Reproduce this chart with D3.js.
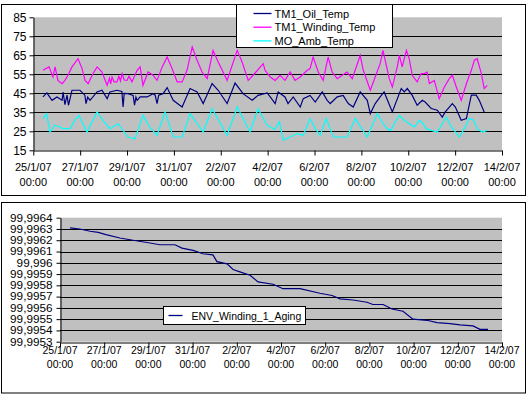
<!DOCTYPE html>
<html>
<head>
<meta charset="utf-8">
<script src="https://cdn.jsdelivr.net/npm/d3@7"></script>
<style>
    body { margin: 0; background: #fff; }
    svg text { font-family: Arial, "Liberation Sans", sans-serif; fill: #000; }
</style>
</head>
<body>
<svg id="chart" width="529" height="395"></svg>
<script>
// time axis: days counted from 25/1/07 00:00
const startDate = new Date(2007, 0, 25);
const tickDays = [0, 2, 4, 6, 8, 10, 12, 14, 16, 18, 20];

const tempTicks = [15, 25, 35, 45, 55, 65, 75, 85];
const agingTicks = [99.9953, 99.9954, 99.9955, 99.9956, 99.9957, 99.9958, 99.9959, 99.9960, 99.9961, 99.9962, 99.9963, 99.9964];

const seriesNames = ["TM1_Oil_Temp", "TM1_Winding_Temp", "MO_Amb_Temp"];
const seriesColors = ["#000080", "#ff00ff", "#00ffff"];

// [day, value]
const oilTemp = [[0.41,43.1],[0.58,45.2],[0.80,41.3],[1.01,43.1],[1.23,41.3],[1.27,45.7],[1.35,39],[1.44,44],[1.50,38.7],[1.65,46.6],[1.99,46.6],[2.20,44],[2.25,39.6],[2.32,43],[2.42,41.3],[2.72,45.7],[2.93,46.6],[3.15,42.2],[3.27,45.7],[3.57,46.6],[3.78,46],[3.83,37.8],[3.88,45],[4.04,44.8],[4.26,43.9],[4.32,38.7],[4.38,43],[4.43,41.3],[4.56,43.1],[4.86,43.1],[5.11,44.8],[5.20,44],[5.28,39.6],[5.35,44],[5.54,44.8],[5.71,48],[5.97,41.3],[6.35,37.8],[6.69,47.5],[6.99,45.7],[7.25,39.6],[7.63,50.1],[7.89,46.6],[8.27,39.6],[8.61,50.4],[8.95,44.8],[9.34,41.3],[9.59,43.9],[9.98,45.2],[10.11,43.1],[10.32,39.6],[10.45,45.7],[10.74,43.1],[10.87,39.6],[11.09,43.1],[11.39,37.8],[11.52,42.2],[11.81,43.9],[12.03,40.4],[12.33,45.7],[12.54,41.3],[12.67,39.6],[12.97,43.1],[13.22,43.9],[13.44,39.6],[13.65,37.8],[13.95,45.7],[14.25,41.3],[14.38,34.3],[14.59,39.6],[14.80,43.1],[14.97,45.7],[15.32,35.2],[15.70,47.5],[15.83,45.7],[15.96,47.5],[16.17,43.9],[16.38,38.7],[16.60,41.3],[16.72,40.4],[16.98,37],[17.24,36.1],[17.45,32.5],[17.58,35.2],[17.88,39.6],[18.01,37.8],[18.26,30.8],[18.48,31.7],[18.69,44],[18.90,44],[19.03,41.3],[19.24,35.2]];

const windingTemp = [[0.41,57.1],[0.67,58.9],[0.84,53.6],[0.93,58.9],[1.05,51.8],[1.23,50.1],[1.35,51.8],[1.48,54.5],[1.65,58.9],[1.91,63.2],[2.08,58],[2.21,51.8],[2.34,50.1],[2.55,55.4],[2.72,58.9],[2.93,56.2],[3.15,49.2],[3.25,53],[3.30,50],[3.36,53.6],[3.45,51],[3.57,51],[3.65,54],[3.72,51.5],[3.79,55.4],[3.88,52],[4.00,51.8],[4.08,54],[4.21,51],[4.43,57.1],[4.56,58.9],[4.68,49.2],[4.90,56.2],[5.11,54.5],[5.28,51.8],[5.50,58.9],[5.71,64.1],[5.92,58],[6.14,51],[6.35,51],[6.56,57.1],[6.78,69.4],[6.99,62.4],[7.20,56.2],[7.42,52.7],[7.67,67.6],[7.89,61.5],[8.27,51.8],[8.70,67.6],[8.91,61.5],[9.17,51.8],[9.38,54.5],[9.81,60.6],[9.89,57.1],[10.11,53.6],[10.32,51.8],[10.53,54.5],[10.74,51.8],[10.96,56.2],[11.17,51.8],[11.39,53.6],[11.69,57.1],[11.81,58],[11.94,64.1],[12.16,56.2],[12.37,51.8],[12.58,64.1],[12.75,56.2],[12.97,52.7],[13.18,54.5],[13.39,56.2],[13.61,52.7],[13.95,65],[14.08,57.1],[14.38,46.6],[14.59,53.6],[14.80,60.6],[14.92,67.6],[15.19,52.7],[15.32,48.3],[15.53,58.9],[15.62,65],[15.74,58.9],[15.92,67.6],[16.04,63.2],[16.17,54.5],[16.38,51],[16.55,55.4],[16.68,55.4],[16.81,56.2],[16.90,50.1],[17.11,51.8],[17.32,42.2],[17.54,48.3],[17.75,52.7],[17.88,54.5],[18.05,48.3],[18.26,41.3],[18.48,50],[18.69,57.1],[18.82,62.4],[18.94,63.2],[19.12,55.4],[19.24,47.5],[19.37,49.2]];

const ambTemp = [[0.41,31.7],[0.57,34.3],[0.71,24.6],[0.93,28.2],[1.14,27.3],[1.27,26.4],[1.57,26.4],[1.78,31],[1.95,33.4],[2.29,24.6],[2.72,35.2],[3.02,30],[3.27,26.4],[3.62,29],[4.04,22],[4.34,21.1],[4.68,33.4],[4.98,27],[5.28,22.9],[5.62,35.2],[5.97,22],[6.35,22],[6.69,34.3],[7.25,24.6],[7.63,36.9],[8.27,22.9],[8.70,37.8],[9.25,24.6],[9.59,36.9],[9.98,28.2],[10.30,26],[10.50,30],[10.66,20.3],[10.96,22],[11.26,23.8],[11.52,22.9],[11.81,31.7],[12.03,26.4],[12.24,22.9],[12.50,31.7],[12.80,22],[13.39,22],[13.74,31.7],[14.25,22],[14.68,34.3],[14.93,29],[15.10,26.4],[15.27,25.5],[15.40,29],[15.62,33.4],[15.83,30.8],[16.04,29],[16.26,27.3],[16.47,30.8],[16.60,29.5],[16.77,26.4],[16.98,25.5],[17.24,24.6],[17.45,29],[17.62,32.5],[17.84,27.3],[18.18,22],[18.39,26.4],[18.60,31.7],[18.78,31],[18.94,26.4],[19.16,24.6],[19.37,25.5]];

const windingAging = [[0.45,99.99631],[0.90,99.99630],[1.36,99.99628],[1.73,99.99627],[2.08,99.99625],[2.71,99.99622],[3.30,99.99620],[3.94,99.99618],[4.52,99.99616],[5.20,99.99616],[5.52,99.99613],[6.02,99.99611],[6.47,99.99608],[6.92,99.99607],[7.10,99.99601],[7.56,99.99599],[7.83,99.99594],[8.14,99.99592],[8.60,99.99589],[8.96,99.99583],[9.64,99.99581],[10.09,99.99577],[10.86,99.99577],[11.76,99.99573],[12.31,99.99571],[12.67,99.99568],[13.26,99.99567],[13.89,99.99565],[14.16,99.99563],[14.62,99.99563],[15.02,99.99559],[15.52,99.99557],[15.97,99.99550],[16.61,99.99549],[17.06,99.99547],[17.65,99.99546],[18.10,99.99545],[18.69,99.99544],[19.00,99.99541],[19.37,99.99541]];

const svg = d3.select("#chart");
const dayToDate = d => new Date(startDate.getTime() + d * 864e5);
const fmtDate = d3.timeFormat("%-d/%-m/%y");
const fmtTime = d3.timeFormat("%H:%M");

/**
 * Draws one framed panel: gray plot area, gridlines, axes, series.
 */
function drawPanel(cfg) {
    const x = d3.scaleTime().domain([startDate, dayToDate(20)]).range([cfg.left, cfg.right]);
    const y = d3.scaleLinear().domain(cfg.yDomain).range([cfg.bottom, cfg.top]);

    svg.append("rect").attr("x", 1.5).attr("y", cfg.boxTop).attr("width", 524).attr("height", cfg.boxBottom - cfg.boxTop)
        .attr("fill", "#fff").attr("stroke", "#000").attr("stroke-width", 1);

    const g = svg.append("g");
    g.append("rect").attr("x", cfg.left).attr("y", cfg.top).attr("width", cfg.right - cfg.left)
        .attr("height", cfg.bottom - cfg.top).attr("fill", "#c0c0c0");

    // gridlines (none on top edge)
    g.selectAll(".grid").data(cfg.yTicks.slice(1, -1)).enter().append("line")
        .attr("x1", cfg.left).attr("x2", cfg.right)
        .attr("y1", d => Math.round(y(d)) + 0.5).attr("y2", d => Math.round(y(d)) + 0.5)
        .attr("stroke", "#000").attr("stroke-width", 1);

    const yAxis = g.append("g").attr("transform", "translate(" + Math.round(cfg.left) + ".5,0)")
        .call(d3.axisLeft(y).tickValues(cfg.yTicks).tickSize(4).tickPadding(3).tickSizeOuter(0).tickFormat(cfg.yFormat));
    yAxis.selectAll("path, line").attr("stroke", "#000");
    yAxis.selectAll("text").style("font-size", cfg.yFont + "px").attr("fill", "#000")
        .attr("transform", "scale(" + cfg.yStretch + ",1)").attr("x", -cfg.yPad / cfg.yStretch);

    const xTicks = tickDays.map(dayToDate);
    const xAxis = g.append("g").attr("transform", "translate(0," + (Math.round(cfg.bottom) + 0.5) + ")")
        .call(d3.axisBottom(x).tickValues(xTicks).tickSize(5).tickSizeOuter(0).tickFormat(""));
    xAxis.selectAll("path, line").attr("stroke", "#000");

    const labels = g.selectAll(".xlab").data(xTicks).enter().append("text")
        .attr("text-anchor", "middle").style("font-size", cfg.xFont + "px");
    labels.append("tspan").attr("x", d => x(d)).attr("y", cfg.xLabelY).text(fmtDate);
    labels.append("tspan").attr("x", d => x(d)).attr("y", cfg.xLabelY + cfg.xLineGap).text(fmtTime);

    const line = d3.line().x(d => x(dayToDate(d[0]))).y(d => y(d[1]));
    cfg.series.forEach(function (s, i) {
        g.append("path").datum(s).attr("d", line).attr("fill", "none")
            .attr("stroke", cfg.colors[i]).attr("stroke-width", 1.2);
    });

    // legend
    const lg = svg.append("g");
    lg.append("rect").attr("x", cfg.legend.x).attr("y", cfg.legend.y).attr("width", cfg.legend.w).attr("height", cfg.legend.h)
        .attr("fill", "#fff").attr("stroke", "#000");
    cfg.names.forEach(function (name, i) {
        const ly = cfg.legend.y + cfg.legend.first + i * cfg.legend.gap;
        lg.append("line").attr("x1", cfg.legend.x + cfg.legend.lx1).attr("x2", cfg.legend.x + cfg.legend.lx2)
            .attr("y1", ly).attr("y2", ly).attr("stroke", cfg.colors[i]).attr("stroke-width", 1.3);
        lg.append("text").attr("x", cfg.legend.x + cfg.legend.tx).attr("y", ly + 4)
            .style("font-size", cfg.legend.font + "px").text(name);
    });
}

drawPanel({
    boxTop: 4.5, boxBottom: 195.5,
    left: 33.3, right: 502, top: 17.3, bottom: 150.3,
    yDomain: [15, 85], yTicks: tempTicks, yFormat: d3.format("d"), yFont: 12, yStretch: 1, yPad: 7,
    xFont: 11, xLabelY: 171, xLineGap: 15,
    series: [oilTemp, windingTemp, ambTemp], colors: seriesColors, names: seriesNames,
    legend: { x: 236.5, y: 4.5, w: 156, h: 43, first: 9, gap: 13.7, lx1: 17, lx2: 35, tx: 38, font: 11 }
});

drawPanel({
    boxTop: 202.5, boxBottom: 393,
    left: 60, right: 502, top: 217.7, bottom: 341.7,
    yDomain: [99.9953, 99.9964], yTicks: agingTicks,
    yFormat: d => (+d.toFixed(4)).toString().replace(".", ","), yFont: 10.5, yStretch: 1.12, yPad: 8,
    xFont: 10.5, xLabelY: 354, xLineGap: 13.5,
    series: [windingAging], colors: ["#000080"], names: ["ENV_Winding_1_Aging"],
    legend: { x: 163.5, y: 306.5, w: 142, h: 18, first: 9, gap: 0, lx1: 5, lx2: 19, tx: 28, font: 10.5 }
});
</script>
</body>
</html>
